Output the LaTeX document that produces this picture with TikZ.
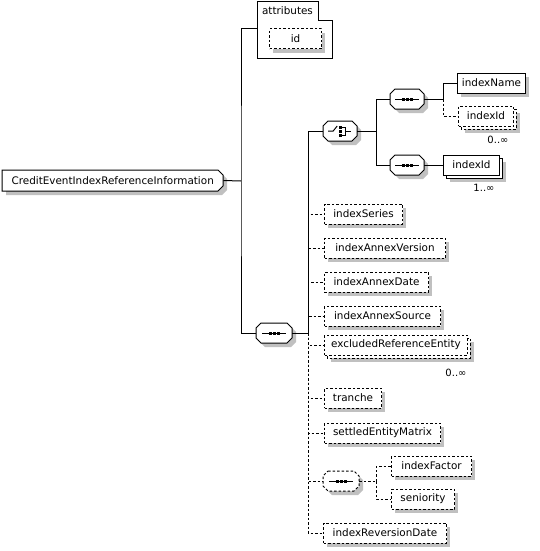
\documentclass[tikz,border=0pt]{standalone}
\usepackage{fontspec}
\setmainfont{DejaVu Sans}
\definecolor{sh}{HTML}{C0C0C0}
\tikzset{
  box/.style={draw, fill=white, line width=1pt, minimum height=20pt, inner sep=1pt,
    font=\fontsize{10.4}{12}\selectfont},
  dl/.style={dash pattern=on 2.5pt off 2pt},
  ln/.style={line width=1pt},
  occ/.style={font=\fontsize{10}{11}\selectfont, inner sep=0pt}
}
\newcommand\el[6][]{%
  \fill[sh] (#3+4,#4-6) rectangle ++(#5,20);
  \node[box,#1,minimum width=#5pt,anchor=west] (#2) at (#3,#4) {#6};}
\newcommand\elm[6][]{%
  \fill[sh] (#3+7,#4-3) rectangle ++(#5,20);
  \draw[box,#1] (#3+3,#4-7) rectangle ++(#5,20);
  \node[box,#1,minimum width=#5pt,anchor=west] (#2) at (#3,#4) {#6};}
\newcommand\comp[5][]{%
  \begin{scope}[shift={(#3,#4)}]
    \fill[sh] (9,-6) -- (#5-1,-6) -- (#5+4,-1) -- (#5+4,9) -- (#5-1,14) -- (9,14) -- (4,9) -- (4,-1) -- cycle;
    \draw[line width=1pt,fill=white,#1] (5,-10) -- (#5-5,-10) -- (#5,-5) -- (#5,5) -- (#5-5,10) -- (5,10) -- (0,5) -- (0,-5) -- cycle;
  \end{scope}
  \node[inner sep=0pt,minimum width=#5pt,minimum height=20pt,anchor=west] (#2) at (#3,#4) {};}
\newcommand\seqsym[1]{%
  \draw[ln] ([xshift=-12pt]#1.center) -- ([xshift=12pt]#1.center);
  \foreach \d in {-4,0,4} \fill ([xshift=\d pt]#1.center) +(-1.5,-1.5) rectangle +(1.5,1.5);}
\newcommand\chsym[1]{%
  \begin{scope}[shift={(#1.center)}]
    \draw[ln] (-12,0) -- (-7,0) -- (-3,-5);
    \foreach \d in {-4,0,4} \fill (0,\d) +(-1.5,-1.5) rectangle +(1.5,1.5);
    \draw[ln] (1.5,-4) -- (5,-4) -- (5,4) -- (1.5,4);
    \draw[ln] (5,0) -- (11,0);
  \end{scope}}
\begin{document}
\begin{tikzpicture}[x=1pt,y=-1pt]
\useasboundingbox (0,0) rectangle (540,551);
% root
\fill[sh] (6,174) -- (222,174) -- (227,179) -- (227,190) -- (222,195) -- (6,195) -- cycle;
\draw[ln,fill=white] (2,170) -- (218,170) -- (223,175) -- (223,186) -- (218,191) -- (2,191) -- cycle;
\node[inner sep=0pt,minimum width=221pt,minimum height=21pt,anchor=west,font=\fontsize{10.4}{12}\selectfont] (root) at (2,180.5) {CreditEventIndexReferenceInformation};
% attributes
\draw[ln,fill=white] (257,2) -- (318,2) -- (318,21) -- (332,21) -- (332,59) -- (257,59) -- cycle;
\node[font=\fontsize{10.4}{12}\selectfont, inner sep=0pt] (attr) at (287.5,11) {attributes};
\coordinate (attrw) at (257,29);
\el[dl]{id}{269}{39}{52}{id}
% trunk
\coordinate (trunk) at (241,181);
\comp{mainseq}{256}{333}{36}
\seqsym{mainseq}
\draw[ln] (root.east) -- (trunk);
\draw[ln] (attrw) -| (trunk) |- (mainseq.west);
% second trunk
\coordinate (t2) at (308,333);
\comp{choice}{323}{131}{34}
\chsym{choice}
\draw[ln] (mainseq.east) -- (t2) |- (choice.west);
% choice branch
\coordinate (t3) at (376,131);
\comp{seqA}{390}{99}{34}
\seqsym{seqA}
\comp{seqB}{390}{165}{34}
\seqsym{seqB}
\draw[ln] (choice.east) -- (t3);
\draw[ln] (t3) |- (seqA.west);
\draw[ln] (t3) |- (seqB.west);
\coordinate (t4) at (443,99);
\el{indexName}{457}{83}{68}{indexName}
\elm[dl]{indexIdA}{458}{116}{55}{indexId}
\node[occ] (occA) at (498,140) {0..∞};
\draw[ln] (seqA.east) -- (t4) |- (indexName.west);
\draw[ln,dl] (t4) |- (indexIdA.west);
\elm{indexIdB}{443}{165}{56}{indexId}
\node[occ] (occB) at (484,188) {1..∞};
\draw[ln] (seqB.east) -- (indexIdB.west);
% sequence elements
\el[dl]{indexSeries}{324}{214}{78}{indexSeries}
\el[dl]{indexAnnexVersion}{324}{248}{121}{indexAnnexVersion}
\el[dl]{indexAnnexDate}{324}{282}{104}{indexAnnexDate}
\el[dl]{indexAnnexSource}{324}{316}{116}{indexAnnexSource}
\elm[dl]{excluded}{324}{345}{143}{excludedReferenceEntity}
\node[occ] (occC) at (456,373) {0..∞};
\el[dl]{tranche}{324}{398}{57}{tranche}
\el[dl]{settled}{324}{433}{116}{settledEntityMatrix}
\comp[dl]{optseq}{323}{481}{36}
\seqsym{optseq}
\coordinate (t5) at (376,481);
\el[dl]{indexFactor}{391}{466}{80}{indexFactor}
\el[dl]{seniority}{391}{499}{63}{seniority}
\el[dl]{reversion}{323}{533}{123}{indexReversionDate}
\foreach \n in {indexSeries,indexAnnexVersion,indexAnnexDate,indexAnnexSource}
  \draw[ln,dl] (t2) |- (\n.west);
\foreach \n in {excluded,tranche,settled,optseq,reversion}
  \draw[ln,dl] (t2) |- (\n.west);
\draw[ln,dl] (optseq.east) -- (t5);
\draw[ln,dl] (t5) |- (indexFactor.west);
\draw[ln,dl] (t5) |- (seniority.west);
\end{tikzpicture}
\end{document}
